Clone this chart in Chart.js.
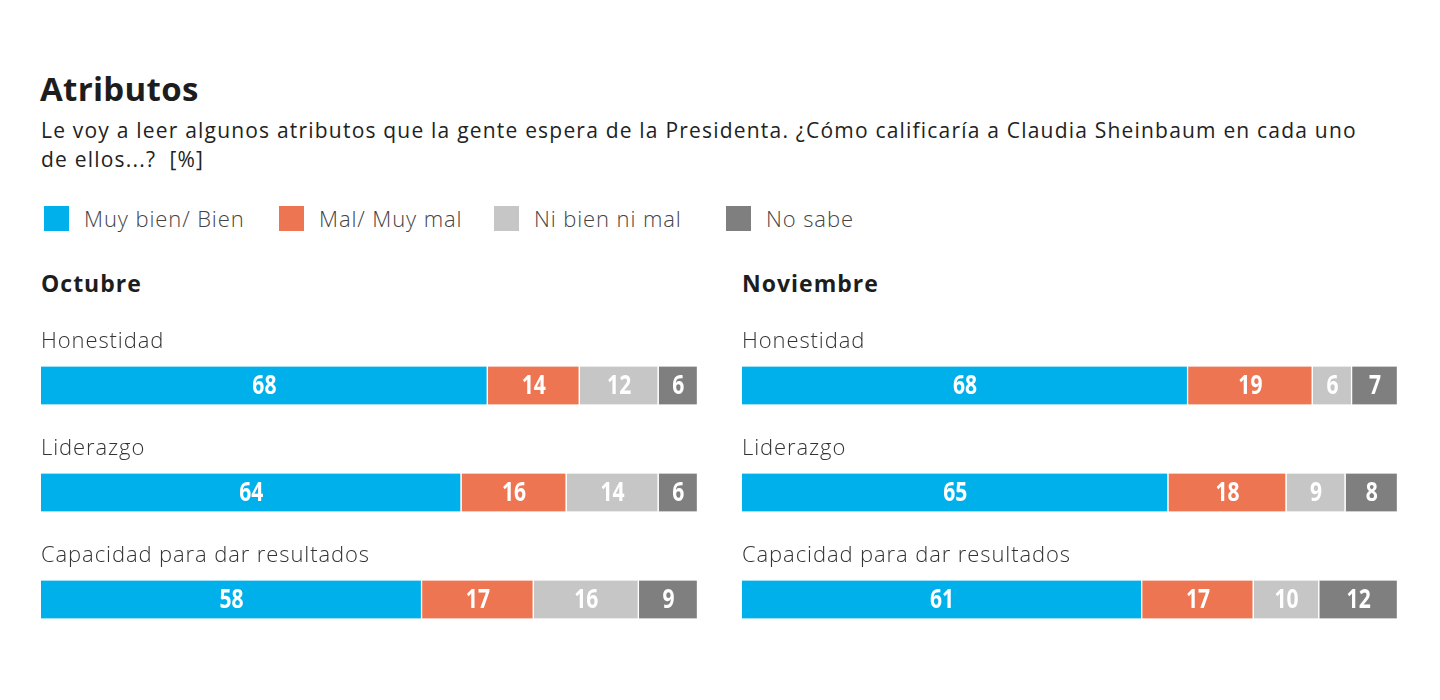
<!DOCTYPE html>
<html>
<head>
<meta charset="utf-8">
<script src="https://cdn.jsdelivr.net/npm/chart.js@4/dist/chart.umd.min.js"></script>
<style>
  html, body { margin: 0; padding: 0; background: #fff; }
  body { width: 1440px; height: 700px; position: relative; overflow: hidden; font-family: "Open Sans", Lato, sans-serif; color: #1d1d1d; }
  .title { position: absolute; left: 40px; top: 66px; font-size: 33px; font-weight: 700; letter-spacing: 0.3px; }
  .sub { position: absolute; left: 41px; top: 116px; width: 1390px; font-size: 21px; line-height: 29px; color: #222; letter-spacing: 1.2px; white-space: nowrap; }
  .legend { position: absolute; top: 205px; left: 0; height: 28px; }
  .leg { position: absolute; top: 0; white-space: nowrap; font-size: 22px; font-weight: 300; color: #444; letter-spacing: 0.9px; }
  .leg span.sw { position: absolute; left: 0; top: 1px; width: 25px; height: 25px; }
  .leg span.tx { position: absolute; left: 40px; top: -1px; line-height: 28px; }
  .month { position: absolute; top: 267px; font-size: 23px; font-weight: 700; color: #1d1d1d; letter-spacing: 1px; }
  .box { position: absolute; top: 312px; height: 341px; }
</style>
</head>
<body>
<div class="title">Atributos</div>
<div class="sub">Le voy a leer algunos atributos que la gente espera de la Presidenta. ¿Cómo calificaría a Claudia Sheinbaum en cada uno<br>de ellos...?&nbsp; [%]</div>
<div class="legend" id="legend"></div>
<div class="month" style="left:41px">Octubre</div>
<div class="month" style="left:742px">Noviembre</div>
<div class="box" style="left:41px; width:657px"><canvas id="octubre"></canvas></div>
<div class="box" style="left:742px; width:656px"><canvas id="noviembre"></canvas></div>

<script>
const atributos = ['Honestidad', 'Liderazgo', 'Capacidad para dar resultados'];
const series_names = ['Muy bien/ Bien', 'Mal/ Muy mal', 'Ni bien ni mal', 'No sabe'];
const series_colors = ['#00b0ea', '#ee7552', '#c6c6c6', '#7f7f7f'];

// octubre
const oct_bien = [68, 64, 58];
const oct_mal = [14, 16, 17];
const oct_ni = [12, 14, 16];
const oct_nosabe = [6, 6, 9];

// noviembre
const nov_bien = [68, 65, 61];
const nov_mal = [19, 18, 17];
const nov_ni = [6, 9, 10];
const nov_nosabe = [7, 8, 12];

const legend_x = [44, 279, 494, 726];

const legend_el = document.getElementById('legend');
series_names.forEach((name, i) => {
    const d = document.createElement('div');
    d.className = 'leg';
    d.style.left = legend_x[i] + 'px';
    d.innerHTML = `<span class="sw" style="background:${series_colors[i]}"></span><span class="tx">${name}</span>`;
    legend_el.appendChild(d);
});

// draws the attribute name above each bar and the value inside each segment
const bar_text_plugin = {
    id: 'bar_text',
    afterDatasetsDraw(chart) {
        const ctx = chart.ctx;
        ctx.save();
        const first = chart.getDatasetMeta(0);
        ctx.font = '300 22px "Open Sans", Lato, sans-serif';
        ctx.letterSpacing = '0.9px';
        ctx.fillStyle = '#333';
        ctx.textAlign = 'left';
        ctx.textBaseline = 'middle';
        first.data.forEach((bar, i) => {
            ctx.fillText(chart.data.labels[i], bar.base, bar.y - 44);
        });
        // values, a bit condensed
        ctx.letterSpacing = '0px';
        ctx.font = 'bold 27px "Open Sans", sans-serif';
        ctx.fillStyle = '#fff';
        ctx.textAlign = 'center';
        chart.data.datasets.forEach((ds, di) => {
            chart.getDatasetMeta(di).data.forEach((bar, i) => {
                const cx = (bar.x + bar.base) / 2;
                ctx.save();
                ctx.translate(cx, bar.y + 1);
                ctx.scale(0.78, 1);
                ctx.fillText(ds.data[i], 0, 0);
                ctx.restore();
            });
        });
        ctx.restore();
    }
};

function make_chart(id, values) {
    return new Chart(document.getElementById(id), {
        type: 'bar',
        data: {
            labels: atributos,
            datasets: values.map((v, i) => ({
                label: series_names[i],
                data: v,
                backgroundColor: series_colors[i],
                borderColor: '#ffffff',
                borderWidth: { top: 0, bottom: 0, left: 0, right: 1.5 },
                borderSkipped: false,
                barThickness: 38
            }))
        },
        options: {
            indexAxis: 'y',
            responsive: true,
            maintainAspectRatio: false,
            animation: false,
            layout: { padding: { top: 20, left: 0, right: 0, bottom: 0 } },
            scales: {
                x: { stacked: true, min: 0, max: 100, display: false },
                y: { stacked: true, display: false }
            },
            plugins: {
                legend: { display: false },
                tooltip: { enabled: false }
            }
        },
        plugins: [bar_text_plugin]
    });
}

make_chart('octubre', [oct_bien, oct_mal, oct_ni, oct_nosabe]);
make_chart('noviembre', [nov_bien, nov_mal, nov_ni, nov_nosabe]);
</script>
</body>
</html>
